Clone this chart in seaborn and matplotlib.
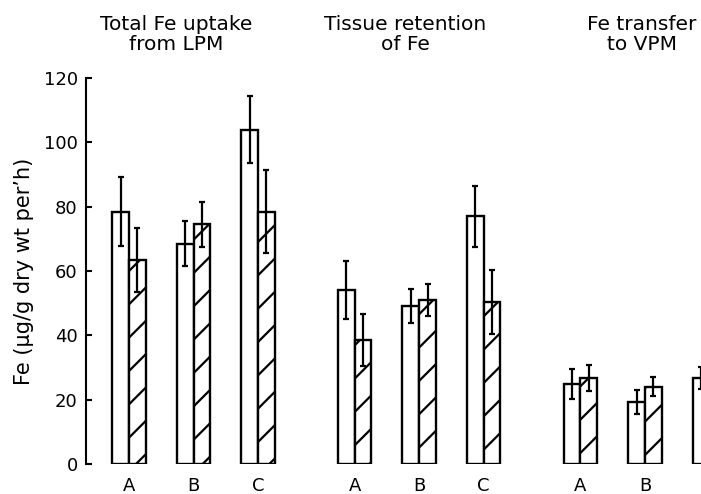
import numpy as np
import pandas as pd
import matplotlib
matplotlib.use("Agg")
import matplotlib.pyplot as plt
import seaborn as sns

sns.set_style("white")
plt.rcParams["font.family"] = ["DejaVu Sans"]
plt.rcParams["hatch.linewidth"] = 1.6
for k in ["text.color", "axes.labelcolor", "xtick.color", "ytick.color"]:
    plt.rcParams[k] = "black"

# bar positions (groups separated by a wider gap)
labels = ["A", "B", "C", "A", "B", "C", "A", "B", "C"]
positions = [0, 1, 2, 3.5, 4.5, 5.5, 7, 8, 9]
group_titles = ["Total Fe uptake\nfrom LPM", "Tissue retention\nof Fe", "Fe transfer\nto VPM"]
title_x = [0.73, 4.28, 7.95]

# open bars
open_vals = [78.5, 68.5, 104, 54, 49, 77, 24.8, 19.3, 26.7]
open_err = [10.8, 7, 10.5, 9, 5.3, 9.5, 4.7, 3.6, 3.5]
# hatched bars
hatch_vals = [63.5, 74.5, 78.5, 38.5, 51, 50.3, 26.8, 24, 28]
hatch_err = [10, 7, 13, 8, 5, 10, 4, 3, 3]

df = pd.DataFrame({
    "pos": positions * 2,
    "value": open_vals + hatch_vals,
    "kind": ["open"] * 9 + ["hatched"] * 9,
})

fig = plt.figure(figsize=(7.01, 4.94), dpi=100)
ax = fig.add_axes([0.1227, 0.0607, 0.8773, 0.7813])

sns.barplot(data=df, x="pos", y="value", hue="kind", native_scale=True,
            dodge=True, width=0.52, palette=["white", "white"],
            edgecolor="black", linewidth=1.7, errorbar=None, legend=False,
            saturation=1, ax=ax)

for p in ax.containers[1]:
    p.set_hatch("/")

errs = [open_err, hatch_err]
vals = [open_vals, hatch_vals]
for cont, v, e in zip(ax.containers, vals, errs):
    xs = [p.get_x() + p.get_width() / 2 for p in cont]
    ax.errorbar(xs, v, yerr=e, fmt="none", ecolor="black", elinewidth=1.6,
                capsize=2.5, capthick=1.6, clip_on=True)

ax.set_yticks([0, 20, 40, 60, 80, 100, 120])
ax.set_xticks(positions)
ax.set_xticklabels(labels)
ax.set_xlim(-0.667, 8.87)
ax.set_ylim(0, 120)
ax.tick_params(axis="x", length=0, pad=9, labelsize=13)
ax.tick_params(axis="y", direction="in", length=4, width=1.5, left=True,
               pad=6, labelsize=13)
for s in ["top", "right", "bottom"]:
    ax.spines[s].set_visible(False)
ax.spines["left"].set_linewidth(1.5)
ax.spines["left"].set_color("black")
ax.set_xlabel("")
ax.set_ylabel("Fe (\u00b5g/g dry wt per\u2019h)", fontsize=15, labelpad=7)

for t, tx in zip(group_titles, title_x):
    ax.text(tx, 133.5, t, ha="center", va="center", fontsize=14.5,
            linespacing=1.1, clip_on=False)

fig.savefig("out.png", dpi=100)
